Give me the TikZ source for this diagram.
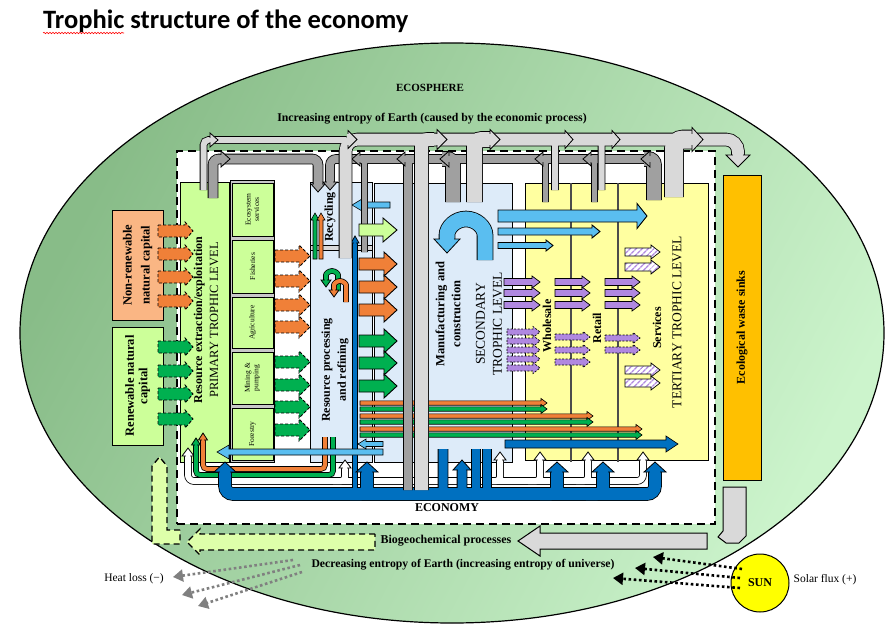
\documentclass[tikz,border=0pt]{standalone}
\usepackage{fontspec}
\setmainfont{Liberation Serif}
\newfontfamily\titlefont{Carlito}
\usetikzlibrary{arrows.meta,patterns.meta,decorations.pathmorphing}
\definecolor{ecoDark}{RGB}{136,188,136}
\definecolor{ecoLight}{RGB}{204,244,204}
\definecolor{lgreen}{RGB}{204,255,153}
\definecolor{lblue}{RGB}{221,235,249}
\definecolor{lyellow}{RGB}{255,255,160}
\definecolor{orng}{RGB}{240,128,56}
\definecolor{grn}{RGB}{0,176,80}
\definecolor{sky}{RGB}{90,190,240}
\definecolor{dblue}{RGB}{0,112,192}
\definecolor{purp}{RGB}{176,136,224}
\definecolor{sinkc}{RGB}{255,192,0}
\definecolor{salmon}{RGB}{250,182,132}
\definecolor{lgray}{RGB}{217,217,217}
\definecolor{dgray}{RGB}{160,160,160}
\definecolor{sunc}{RGB}{255,255,0}
\definecolor{heatc}{RGB}{128,128,128}
\definecolor{bgc}{RGB}{222,255,170}
\definecolor{colgray}{RGB}{200,200,200}
% block arrows: [style]{x1}{x2}{y}{half shaft}{half head}{head length}
\newcommand\blkR[7][]{\draw[#1] (#2,#4-#5) -- (#3-#7,#4-#5) -- (#3-#7,#4-#6) -- (#3,#4) -- (#3-#7,#4+#6) -- (#3-#7,#4+#5) -- (#2,#4+#5) -- cycle;}
\newcommand\blkL[7][]{\draw[#1] (#2,#4-#5) -- (#3+#7,#4-#5) -- (#3+#7,#4-#6) -- (#3,#4) -- (#3+#7,#4+#6) -- (#3+#7,#4+#5) -- (#2,#4+#5) -- cycle;}
\newcommand\blkU[7][]{\draw[#1] (#2-#5,#3) -- (#2-#5,#4+#7) -- (#2-#6,#4+#7) -- (#2,#4) -- (#2+#6,#4+#7) -- (#2+#5,#4+#7) -- (#2+#5,#3) -- cycle;}
% pipes
\newcommand\pipeO[3][5]{\draw[line width=#2pt+1.6pt,black,rounded corners=#1pt] #3;}
\newcommand\pipeF[4][5]{\draw[line width=#2pt,#3,rounded corners=#1pt] #4;}
% pipe heads: {x}{y tip}{half shaft}{half head}{length}{color}
\newcommand\hdU[6]{\filldraw[fill=#6,draw=black,line width=0.8pt,line join=miter] (#1-#4,#2+#5) -- (#1,#2) -- (#1+#4,#2+#5) -- cycle; \fill[#6] (#1-#3+0.7,#2+#5-0.8) rectangle (#1+#3-0.7,#2+#5+1.5);}
\newcommand\hdD[6]{\filldraw[fill=#6,draw=black,line width=0.8pt,line join=miter] (#1-#4,#2-#5) -- (#1,#2) -- (#1+#4,#2-#5) -- cycle; \fill[#6] (#1-#3+0.7,#2-#5+0.8) rectangle (#1+#3-0.7,#2-#5-1.5);}
\newcommand\hdR[6]{\filldraw[fill=#6,draw=black,line width=0.8pt,line join=miter] (#1-#5,#2-#4) -- (#1,#2) -- (#1-#5,#2+#4) -- cycle; \fill[#6] (#1-#5+0.8,#2-#3+0.7) rectangle (#1-#5-1.5,#2+#3-0.7);}
\newcommand\hdL[6]{\filldraw[fill=#6,draw=black,line width=0.8pt,line join=miter] (#1+#5,#2-#4) -- (#1,#2) -- (#1+#5,#2+#4) -- cycle; \fill[#6] (#1+#5-0.8,#2-#3+0.7) rectangle (#1+#5+1.5,#2+#3-0.7);}
\begin{document}
\begin{tikzpicture}[x=1pt,y=-1pt,
  dorng/.style={fill=orng,draw=black,line width=0.9pt,dash pattern=on 3pt off 2pt},
  dgrn/.style={fill=grn,draw=black,line width=0.9pt,dash pattern=on 3pt off 2pt},
  sarr/.style={draw=black,line width=0.9pt},
  tarr/.style={draw=black,line width=0.6pt},
  dpurp/.style={fill=purp,draw=black,line width=0.7pt,dash pattern=on 2pt off 1.5pt},
  hpurp/.style={preaction={fill=white},pattern={Lines[angle=45,distance=4pt,line width=1.5pt]},pattern color=purp,draw=black,line width=0.7pt},
  boxs/.style={draw=black,line width=1pt,inner sep=0pt},
  blbl/.style={font=\bfseries\fontsize{12}{14}\selectfont,align=center,inner sep=0pt},
  rblbl/.style={blbl,rotate=90},
  nlbl/.style={font=\fontsize{13.5}{17}\selectfont,align=center,inner sep=0pt,rotate=90},
  subl/.style={font=\fontsize{7.5}{8.5}\selectfont,align=center,inner sep=0pt,rotate=90},
  bgarr/.style={fill=bgc,draw=black,line width=1.3pt,dash pattern=on 6pt off 4pt},
  sunarr/.style={draw=black,line width=2.6pt,dash pattern=on 2.6pt off 2.6pt,-{Triangle[length=10pt,width=12pt]}},
  heatarr/.style={draw=heatc,line width=2.6pt,dash pattern=on 2.6pt off 2.6pt,-{Triangle[length=10pt,width=12pt]}},
]
\useasboundingbox (0,0) rectangle (895,637);
\fill[white] (0,0) rectangle (895,637);

% title
\node[anchor=west,inner sep=0pt,font=\titlefont\bfseries\fontsize{26.5}{30}\selectfont] (title) at (43,21) {Trophic structure of the economy};
\draw[red,line width=0.6pt,decorate,decoration={snake,amplitude=0.7pt,segment length=3pt}] (43,33) -- (124,33);

% ecosphere
\shade[top color=ecoDark,bottom color=ecoLight,shading angle=62] (452,333) ellipse [x radius=432,y radius=290];
\draw[line width=1.2pt] (452,333) ellipse [x radius=432,y radius=290];
\node[font=\bfseries\fontsize{11}{13}\selectfont] (ecosph) at (430,88) {ECOSPHERE};
\node[font=\bfseries\fontsize{11.8}{13}\selectfont] (incr) at (432,119) {Increasing entropy of Earth (caused by the economic process)};

% economy boundary
\node[draw,fill=white,line width=1.3pt,dash pattern=on 8pt off 5pt,minimum width=538pt,minimum height=373pt,inner sep=0pt] (econbox) at (446,337.5) {};

% boxes
\node[boxs,fill=salmon,minimum width=51pt,minimum height=110pt] (nrc) at (137.5,265) {};
\node[boxs,fill=lgreen,minimum width=51pt,minimum height=118pt] (rnc) at (137.5,386) {};
\node[boxs,fill=lgreen,minimum width=49pt,minimum height=280pt] (prim) at (204.5,322) {};
\node[draw=black,line width=0.6pt,fill=colgray,minimum width=44pt,minimum height=282pt,inner sep=0pt] (subcol) at (252.5,321.5) {};
\node[boxs,fill=lgreen,minimum width=41pt,minimum height=53pt] (eco) at (252.5,209.5) {};
\node[boxs,fill=lgreen,minimum width=41pt,minimum height=53pt] (fish) at (252.5,266.5) {};
\node[boxs,fill=lgreen,minimum width=41pt,minimum height=51pt] (agri) at (252.5,322.5) {};
\node[boxs,fill=lgreen,minimum width=41pt,minimum height=52pt] (mine) at (252.5,378) {};
\node[boxs,fill=lgreen,minimum width=41pt,minimum height=52pt] (fore) at (252.5,434) {};
\node[boxs,fill=lblue,minimum width=62pt,minimum height=280pt] (res) at (341,322) {};
\node[boxs,fill=lblue,minimum width=44pt,minimum height=279pt] (resout) at (396,322.5) {};
\node[boxs,fill=lblue,minimum width=84pt,minimum height=279pt] (man) at (470,322.5) {};
\node[boxs,fill=lyellow,minimum width=183pt,minimum height=277pt] (tert) at (616.5,321.5) {};
\node[boxs,fill=sinkc,minimum width=38pt,minimum height=305pt] (sink) at (742,327.5) {};
\draw[fill=lgray,line width=0.6pt] (310,245) rectangle (372,250);
\draw[line width=1.8pt,black!70] (571,183) -- (571,462);
\draw[line width=1.8pt,black!70] (618,183) -- (618,462);

% thin coloured flows into tertiary
\blkR[tarr,fill=orng]{360}{547}{403}{2.2}{4.5}{6}
\blkR[tarr,fill=grn]{360}{547}{409}{2.2}{4.5}{6}
\blkR[tarr,fill=orng]{360}{593}{416}{2.2}{4.5}{6}
\blkR[tarr,fill=grn]{360}{593}{422}{2.2}{4.5}{6}
\blkR[tarr,fill=orng]{360}{642}{429}{2.2}{4.5}{6}
\blkR[tarr,fill=grn]{360}{642}{435}{2.2}{4.5}{6}
\blkR[tarr,fill=dblue]{505}{678}{444}{4}{8}{12}

% manufacturing outputs
\blkR[sarr,fill=sky]{498}{647}{216}{6}{12.5}{10}
\blkR[sarr,fill=sky]{498}{600}{231.5}{3.5}{6.5}{8}
\blkR[sarr,fill=sky]{498}{553}{245.5}{3}{5.5}{7}
\pipeO[3]{15}{(485,260) -- (485,238) arc[start angle=0,end angle=-180,radius=19] -- (447,240)}
\pipeF[3]{15}{sky}{(485,260) -- (485,238) arc[start angle=0,end angle=-180,radius=19] -- (447,240)}
\hdD{447}{253}{7.5}{13}{14}{sky}

% purple flows
\foreach \yy in {282,293,305}{
  \blkR[sarr,fill=purp,line width=0.7pt]{504}{540}{\yy}{3.5}{6}{8}
  \blkR[sarr,fill=purp,line width=0.7pt]{555}{590}{\yy}{3.5}{6}{8}
  \blkR[sarr,fill=purp,line width=0.7pt]{605}{640}{\yy}{3.5}{6}{8}}
\foreach \yy in {332,341,350,359,368}{\blkR[dpurp]{507}{540}{\yy}{3}{5.5}{7}}
\foreach \yy in {337,350,362}{\blkR[dpurp]{555}{590}{\yy}{3}{5.5}{7}}
\foreach \yy in {338,350}{\blkR[dpurp]{605}{640}{\yy}{3}{5.5}{7}}
\foreach \yy in {252,267,370,383}{\blkR[hpurp]{625}{660}{\yy}{4}{7}{9}}

% white return pipes
\pipeO[6]{6}{(188,455) -- (188,481) -- (643,481) -- (643,459)}
\pipeO[4]{6}{(333,481) -- (345,481) -- (345,467)}
\pipeO[4]{6}{(488,481) -- (500,481) -- (500,459)}
\pipeO[4]{6}{(528,481) -- (540,481) -- (540,459)}
\pipeO[4]{6}{(576,481) -- (588,481) -- (588,459)}
\pipeF[6]{6}{white}{(188,455) -- (188,481) -- (643,481) -- (643,459)}
\pipeF[4]{6}{white}{(333,481) -- (345,481) -- (345,467)}
\pipeF[4]{6}{white}{(488,481) -- (500,481) -- (500,459)}
\pipeF[4]{6}{white}{(528,481) -- (540,481) -- (540,459)}
\pipeF[4]{6}{white}{(576,481) -- (588,481) -- (588,459)}
\hdU{188}{448}{3}{6}{8}{white}
\hdU{345}{460}{3}{6}{8}{white}
\hdU{500}{452}{3}{6}{8}{white}
\hdU{540}{452}{3}{6}{8}{white}
\hdU{588}{452}{3}{6}{8}{white}
\hdU{643}{452}{3}{6}{8}{white}

% recycled orange / green
\pipeO[4]{4}{(333,437) -- (333,475) -- (196,475) -- (196,444)}
\pipeF[4]{4}{grn}{(333,437) -- (333,475) -- (196,475) -- (196,444)}
\pipeO[4]{4}{(325,437) -- (325,469) -- (203,469) -- (203,439)}
\pipeF[4]{4}{orng}{(325,437) -- (325,469) -- (203,469) -- (203,439)}
\hdU{196}{438}{2}{4.5}{7}{grn}
\hdU{203}{433}{2}{4.5}{7}{orng}

% blue capital pipes
\pipeO[8]{12}{(225,471) -- (225,494) -- (655,494) -- (655,471)}
\pipeO[6]{12}{(350,494) -- (367,494) -- (367,471)}
\pipeO[6]{12}{(540,494) -- (557,494) -- (557,471)}
\pipeO[6]{12}{(586,494) -- (603,494) -- (603,471)}
\pipeO[5]{9}{(443,449) -- (443,494) -- (462,494) -- (462,469)}
\pipeO{8}{(476,449) -- (476,492)}
\pipeO{8}{(487,449) -- (487,492)}
\pipeO{4}{(355,494) -- (355,242)}
\pipeF[8]{12}{dblue}{(225,471) -- (225,494) -- (655,494) -- (655,471)}
\pipeF[6]{12}{dblue}{(350,494) -- (367,494) -- (367,471)}
\pipeF[6]{12}{dblue}{(540,494) -- (557,494) -- (557,471)}
\pipeF[6]{12}{dblue}{(586,494) -- (603,494) -- (603,471)}
\pipeF[5]{9}{dblue}{(443,449) -- (443,494) -- (462,494) -- (462,469)}
\pipeF{8}{dblue}{(476,449) -- (476,492)}
\pipeF{8}{dblue}{(487,449) -- (487,492)}
\pipeF{4}{dblue}{(355,494) -- (355,242)}
\hdU{225}{462}{6}{11}{10}{dblue}
\hdU{367}{462}{6}{11}{10}{dblue}
\hdU{462}{460}{4.5}{9}{10}{dblue}
\hdU{557}{462}{6}{11}{10}{dblue}
\hdU{603}{462}{6}{11}{10}{dblue}
\hdU{655}{462}{6}{11}{10}{dblue}
\hdU{355}{236}{2}{4}{7}{dblue}

% sky blue returns
\blkL[tarr,fill=sky]{383}{217}{452}{3}{7}{12}
\blkL[tarr,fill=sky]{383}{358}{444}{2.5}{5}{8}
\blkL[tarr,fill=sky]{390}{352}{205}{3}{6}{10}

% dark grey waste pipes (to recycling)
\pipeO[6]{9}{(213,198) -- (213,159) -- (318,159) -- (318,184)}
\pipeO[6]{8}{(648,159) -- (330,159) -- (330,183)}
\pipeO[6]{14}{(654,200) -- (654,159) -- (644,159)}
\pipeO[4]{5}{(364.5,252) -- (364.5,159) -- (356,159)}
\pipeO[4]{8}{(408,490) -- (408,159) -- (400,159)}
\pipeO[6]{14}{(453,202) -- (453,159) -- (442,159)}
\pipeO[4]{5}{(545.5,202) -- (545.5,159) -- (537,159)}
\pipeO[4]{5}{(594.5,202) -- (594.5,159) -- (586,159)}
\pipeF[6]{9}{dgray}{(213,198) -- (213,159) -- (318,159) -- (318,184)}
\pipeF[6]{8}{dgray}{(648,159) -- (330,159) -- (330,183)}
\pipeF[6]{14}{dgray}{(654,200) -- (654,159) -- (644,159)}
\pipeF[4]{5}{dgray}{(364.5,252) -- (364.5,159) -- (356,159)}
\pipeF[4]{8}{dgray}{(408,490) -- (408,159) -- (400,159)}
\pipeF[6]{14}{dgray}{(453,202) -- (453,159) -- (442,159)}
\pipeF[4]{5}{dgray}{(545.5,202) -- (545.5,159) -- (537,159)}
\pipeF[4]{5}{dgray}{(594.5,202) -- (594.5,159) -- (586,159)}
\hdR{230}{159}{4.5}{8}{9}{dgray}
\hdD{318}{192}{4.5}{7}{8}{dgray}
\hdD{330}{190}{4}{7}{8}{dgray}
\hdL{352}{159}{4}{7}{8}{dgray}
\hdL{397}{159}{4}{7}{8}{dgray}
\hdL{440}{159}{4}{8}{9}{dgray}
\hdL{535}{159}{4}{7}{8}{dgray}
\hdL{583}{159}{4}{7}{8}{dgray}
\hdL{641}{159}{4}{8}{9}{dgray}

% light grey entropy pipes (to ecological sinks)
\pipeO[5]{6}{(203.5,190) -- (203.5,140) -- (346,140)}
\pipeO[12]{12}{(345.5,258) -- (345.5,139.5) -- (738,139.5) -- (738,156)}
\pipeO[6]{13}{(421.5,490) -- (421.5,139.5) -- (434,139.5)}
\pipeO[7]{15}{(474.5,202) -- (474.5,139.5) -- (490,139.5)}
\pipeO[4]{6}{(555,190) -- (555,139.5) -- (565,139.5)}
\pipeO[4]{6}{(601.5,190) -- (601.5,139.5) -- (612,139.5)}
\pipeO[9]{18}{(674,197) -- (674,139.5) -- (692,139.5)}
\pipeF[5]{6}{lgray}{(203.5,190) -- (203.5,140) -- (346,140)}
\pipeF[12]{12}{lgray}{(345.5,258) -- (345.5,139.5) -- (738,139.5) -- (738,156)}
\pipeF[6]{13}{lgray}{(421.5,490) -- (421.5,139.5) -- (434,139.5)}
\pipeF[7]{15}{lgray}{(474.5,202) -- (474.5,139.5) -- (490,139.5)}
\pipeF[4]{6}{lgray}{(555,190) -- (555,139.5) -- (565,139.5)}
\pipeF[4]{6}{lgray}{(601.5,190) -- (601.5,139.5) -- (612,139.5)}
\pipeF[9]{18}{lgray}{(674,197) -- (674,139.5) -- (692,139.5)}
\hdR{218}{140}{3}{7}{8}{lgray}
\hdR{357}{139.5}{6}{9}{9}{lgray}
\hdR{447}{139.5}{6}{10}{10}{lgray}
\hdR{500}{139.5}{6}{10}{10}{lgray}
\hdR{573}{139.5}{6}{9}{8}{lgray}
\hdR{620}{139.5}{6}{9}{8}{lgray}
\hdR{703}{139.5}{6}{12}{11}{lgray}
\hdD{738}{167}{6}{12}{12}{lgray}

% capital inputs
\foreach \yy in {231,254,277,301}{\blkR[dorng]{158}{193}{\yy}{6}{9}{8}}
\foreach \yy in {347,371,394,419}{\blkR[dgrn]{158}{193}{\yy}{6}{9}{8}}
% primary outputs
\foreach \yy in {256,281,305,327}{\blkR[dorng]{275}{310}{\yy}{6}{11}{11}}
\foreach \yy in {362,385,407,430}{\blkR[dgrn]{275}{310}{\yy}{6}{11}{11}}
% processing outputs
\blkR[sarr,fill=lgreen]{359}{397}{230}{6}{12}{14}
\foreach \yy in {264,287,310}{\blkR[sarr,fill=orng]{359}{397}{\yy}{6}{12}{13}}
\foreach \yy in {341,363,386}{\blkR[sarr,fill=grn]{359}{397}{\yy}{6}{12}{13}}

% recycling details
\blkU[tarr,fill=grn]{315}{259}{213}{2}{4}{7}
\blkU[tarr,fill=orng]{321}{259}{213}{2}{4}{7}
\pipeO[2]{4}{(338,291) -- (338,277) arc[start angle=0,end angle=-180,radius=6] -- (326,280)}
\pipeF[2]{4}{grn}{(338,291) -- (338,277) arc[start angle=0,end angle=-180,radius=6] -- (326,280)}
\hdD{326}{287}{2}{5}{7}{grn}
\pipeO[2]{4}{(346,302) -- (346,287) arc[start angle=0,end angle=-180,radius=6] -- (334,290)}
\pipeF[2]{4}{orng}{(346,302) -- (346,287) arc[start angle=0,end angle=-180,radius=6] -- (334,290)}
\hdD{334}{297}{2}{5}{7}{orng}

% outside the economy: waste back to biogeochemical processes
\draw[fill=lgray,line width=1pt] (723,487) -- (746,487) -- (746,536) -- (739,543) -- (726,543) -- (718,537) -- (723,531) -- cycle;
\blkL[fill=lgray,draw=black,line width=1pt]{707}{518}{541}{8}{15}{22}
\blkL[bgarr]{375}{187}{542}{8}{13}{13}
\draw[bgarr] (180,530) -- (167,530) -- (167,466) -- (159.5,457) -- (152,466) -- (152,544) -- (180,544) -- cycle;

% labels outside
\node[font=\bfseries\fontsize{12}{14}\selectfont] (econ) at (447,508) {ECONOMY};
\node[font=\bfseries\fontsize{12}{14}\selectfont] (bio) at (446,541) {Biogeochemical processes};
\node[font=\bfseries\fontsize{11.7}{14}\selectfont] (decr) at (463,565) {Decreasing entropy of Earth (increasing entropy of universe)};
\node[font=\fontsize{11.5}{14}\selectfont] (solar) at (825,580) {Solar flux (+)};
\node[font=\fontsize{11.5}{14}\selectfont] (heat) at (134,579) {Heat loss (−)};

% sun
\node[circle,draw=black,line width=1pt,fill=sunc,minimum size=58pt,inner sep=0pt,font=\bfseries\fontsize{12}{14}\selectfont] (sun) at (760,583) {SUN};
\coordinate (st1) at (742,569); \coordinate (se1) at (653,557);
\coordinate (st2) at (740,578); \coordinate (se2) at (635,568);
\coordinate (st3) at (740,588); \coordinate (se3) at (613,578);
\draw[sunarr] (st1) -- (se1);
\draw[sunarr] (st2) -- (se2);
\draw[sunarr] (st3) -- (se3);
\coordinate (hs1) at (293,560); \coordinate (he1) at (173,577);
\coordinate (hs2) at (300,565); \coordinate (he2) at (182,595);
\coordinate (hs3) at (302,572); \coordinate (he3) at (198,606);
\draw[heatarr] (hs1) -- (he1);
\draw[heatarr] (hs2) -- (he2);
\draw[heatarr] (hs3) -- (he3);

% box labels
\node[rblbl,font=\bfseries\fontsize{12.5}{18}\selectfont] (nrct) at (nrc) {Non-renewable\\natural capital};
\node[rblbl,font=\bfseries\fontsize{12.5}{13.5}\selectfont] (rnct) at (rnc) {Renewable natural\\capital};
\node[rotate=90,align=center,inner sep=0pt,font=\fontsize{12}{16}\selectfont] (primt) at (206,320) {\textbf{Resource extraction/exploitation}\\{\fontsize{12.5}{16}\selectfont PRIMARY TROPHIC LEVEL}};
\node[subl] (ecot) at (eco) {Ecosystem\\services};
\node[subl] (fisht) at (fish) {Fisheries};
\node[subl] (agrit) at (agri) {Agriculture};
\node[subl] (minet) at (mine) {Mining \&\\pumping};
\node[subl] (foret) at (fore) {Forestry};
\node[rblbl] (recyt) at (330,217) {Recycling};
\node[rblbl,font=\bfseries\fontsize{12}{16}\selectfont] (rest) at (335,370) {Resource processing\\and refining};
\node[rblbl,font=\bfseries\fontsize{12.5}{16}\selectfont] (mant) at (448,314) {Manufacturing and\\construction};
\node[nlbl] (sect) at (489,324) {SECONDARY\\TROPHIC LEVEL};
\node[rblbl] (wholt) at (547,326) {Wholesale};
\node[rblbl] (rett) at (597,328) {Retail};
\node[rblbl] (servt) at (657,328) {Services};
\node[nlbl] (tertt) at (677,322) {TERTIARY TROPHIC LEVEL};
\node[rblbl] (sinkt) at (sink) {Ecological waste sinks};
\end{tikzpicture}
\end{document}
